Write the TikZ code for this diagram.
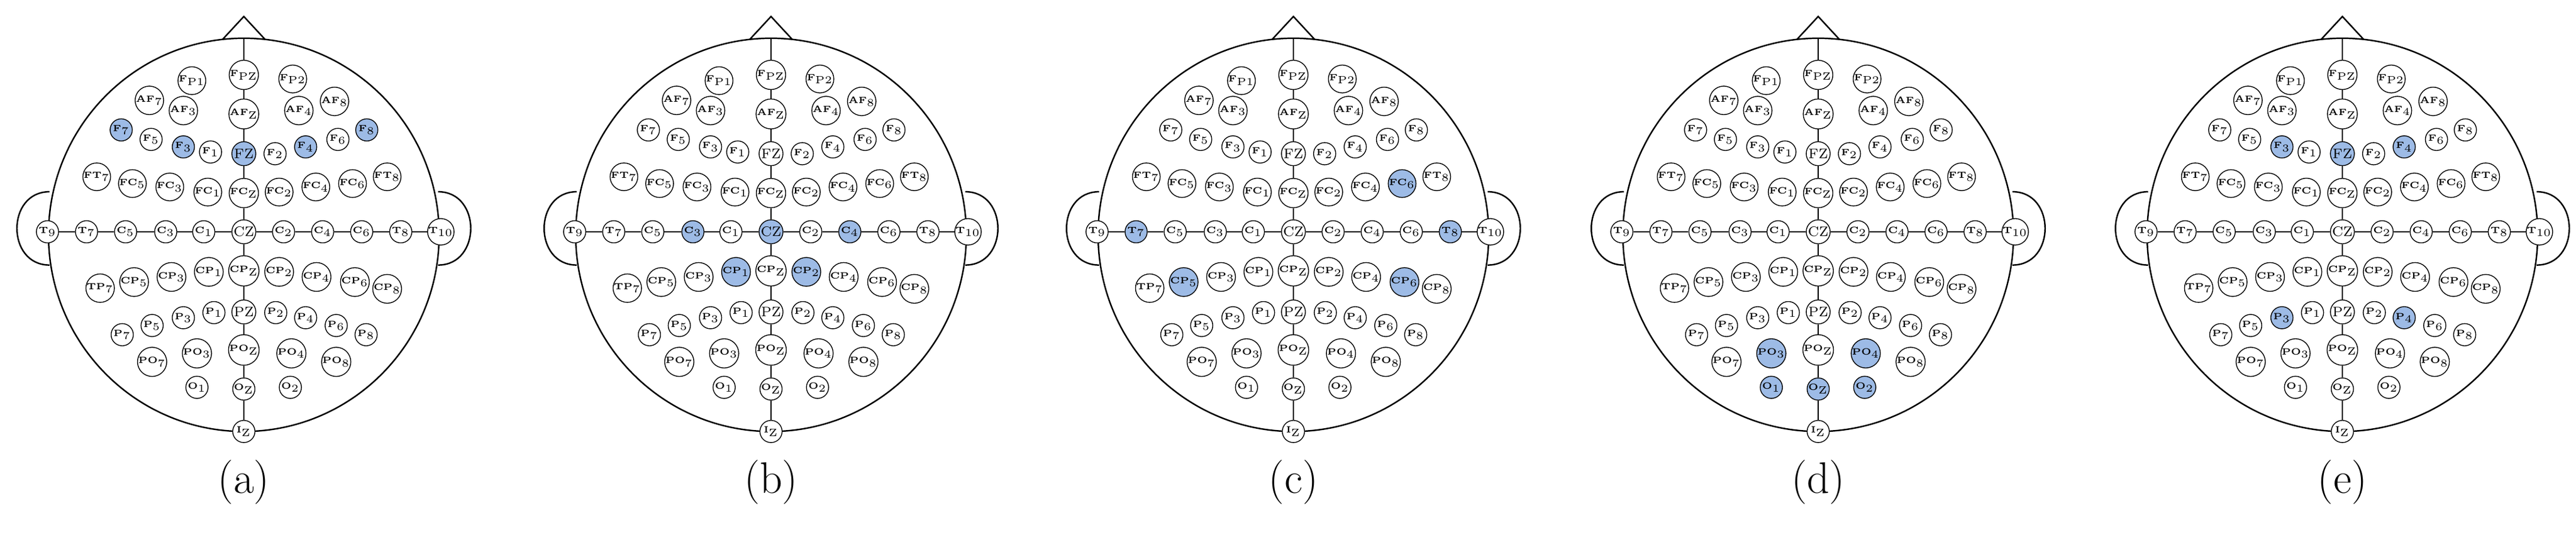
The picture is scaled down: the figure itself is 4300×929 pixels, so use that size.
\documentclass[tikz,border=0pt]{standalone}
\definecolor{hlblue}{RGB}{157,187,230}
\tikzset{
  elec/.style={circle,draw=black,line width=0.4pt,fill=white,minimum size=0.37cm,inner sep=0pt,font=\fontsize{4.3}{5}\selectfont\bfseries},
  bigelec/.style={elec,minimum size=0.40cm,font=\fontsize{6.5}{7}\selectfont},
  headline/.style={line width=0.7pt},
  wire/.style={line width=0.6pt},
  hl-a-F7/.style={fill=hlblue},hl-a-F3/.style={fill=hlblue},hl-a-Fz/.style={fill=hlblue},hl-a-F4/.style={fill=hlblue},hl-a-F8/.style={fill=hlblue},
  hl-b-C3/.style={fill=hlblue},hl-b-Cz/.style={fill=hlblue},hl-b-C4/.style={fill=hlblue},hl-b-CP1/.style={fill=hlblue},hl-b-CP2/.style={fill=hlblue},
  hl-c-T7/.style={fill=hlblue},hl-c-T8/.style={fill=hlblue},hl-c-FC6/.style={fill=hlblue},hl-c-CP5/.style={fill=hlblue},hl-c-CP6/.style={fill=hlblue},
  hl-d-PO3/.style={fill=hlblue},hl-d-PO4/.style={fill=hlblue},hl-d-O1/.style={fill=hlblue},hl-d-Oz/.style={fill=hlblue},hl-d-O2/.style={fill=hlblue},
  hl-e-F3/.style={fill=hlblue},hl-e-Fz/.style={fill=hlblue},hl-e-F4/.style={fill=hlblue},hl-e-P3/.style={fill=hlblue},hl-e-P4/.style={fill=hlblue},
}
\begin{document}
\begin{tikzpicture}[x=0.01cm,y=-0.01cm]
\useasboundingbox[fill=white] (0,0) rectangle (4300,929);
\foreach \p/\cx/\lab in {a/407/a,b/1287/b,c/2159/c,d/3035/d,e/3910/e}{
\begin{scope}[shift={(\cx,387)},xscale=0.567,yscale=0.567]
  % head, ears, nose
  \draw[headline] (0,9) ellipse [x radius=575,y radius=579];
  \draw[headline] (-572,-118) .. controls (-700,-118) and (-700,98) .. (-572,98);
  \draw[headline] (572,-118) .. controls (700,-118) and (700,98) .. (572,98);
  \draw[headline] (-63,-566) -- (0,-634) -- (63,-566);
  \coordinate (\p-top) at (0,-570);
  % electrodes
  \foreach \n/\t/\x/\y in {
    Fp1/{F$_{\rm P1}$}/-153/-445, Fpz/{F$_{\rm PZ}$}/0/-462, Fp2/{F$_{\rm P2}$}/144/-450,
    AF7/{AF$_7$}/-278/-387, AF3/{AF$_3$}/-178/-357, AFz/{AF$_{\rm Z}$}/0/-347, AF4/{AF$_4$}/162/-357, AF8/{AF$_8$}/267/-384,
    F7/{F$_7$}/-361/-300, F5/{F$_5$}/-273/-272, F3/{F$_3$}/-178/-250, F1/{F$_1$}/-98/-235, F2/{F$_2$}/92/-230, F4/{F$_4$}/182/-250, F6/{F$_6$}/277/-272, F8/{F$_8$}/362/-300,
    FT7/{FT$_7$}/-433/-162, FC5/{FC$_5$}/-328/-142, FC3/{FC$_3$}/-218/-132, FC1/{FC$_1$}/-106/-117, FCz/{FC$_{\rm Z}$}/0/-114, FC2/{FC$_2$}/104/-117, FC4/{FC$_4$}/212/-132, FC6/{FC$_6$}/320/-142, FT8/{FT$_8$}/422/-162,
    T9/{T$_9$}/-578/0, T7/{T$_7$}/-463/0, C5/{C$_5$}/-348/0, C3/{C$_3$}/-230/0, C1/{C$_1$}/-118/0, C2/{C$_2$}/117/0, C4/{C$_4$}/232/0, C6/{C$_6$}/347/0, T8/{T$_8$}/462/0, T10/{T$_{10}$}/580/0,
    TP7/{TP$_7$}/-423/166, CP5/{CP$_5$}/-323/148, CP3/{CP$_3$}/-213/133, CP1/{CP$_1$}/-103/118, CPz/{CP$_{\rm Z}$}/0/115, CP2/{CP$_2$}/104/118, CP4/{CP$_4$}/214/133, CP6/{CP$_6$}/327/148, CP8/{CP$_8$}/422/168,
    P7/{P$_7$}/-358/303, P5/{P$_5$}/-270/276, P3/{P$_3$}/-178/253, P1/{P$_1$}/-88/238, P2/{P$_2$}/94/238, P4/{P$_4$}/182/253, P6/{P$_6$}/272/276, P8/{P$_8$}/360/303,
    PO7/{PO$_7$}/-270/383, PO3/{PO$_3$}/-138/358, POz/{PO$_{\rm Z}$}/0/348, PO4/{PO$_4$}/140/358, PO8/{PO$_8$}/272/383,
    O1/{O$_1$}/-138/458, Oz/{O$_{\rm Z}$}/0/463, O2/{O$_2$}/137/458,
    Iz/{I$_{\rm Z}$}/0/588}
    {\node[elec,hl-\p-\n/.try] (\p-\n) at (\x,\y) {\t};}
  \foreach \n/\t/\y in {Fz/FZ/-230, Cz/CZ/0, Pz/PZ/236}
    {\node[bigelec,hl-\p-\n/.try] (\p-\n) at (0,\y) {\t};}
  % wires
  \foreach \u/\v in {top/Fpz,Fpz/AFz,AFz/Fz,Fz/FCz,FCz/Cz,Cz/CPz,CPz/Pz,Pz/POz,POz/Oz,Oz/Iz,
                     T9/T7,T7/C5,C5/C3,C3/C1,C1/Cz,Cz/C2,C2/C4,C4/C6,C6/T8,T8/T10}
    {\draw[wire] (\p-\u) -- (\p-\v);}
\end{scope}
\node[font=\fontsize{21}{24}\selectfont] (\p-label) at (\cx,805) {(\lab)};
}
\end{tikzpicture}
\end{document}
